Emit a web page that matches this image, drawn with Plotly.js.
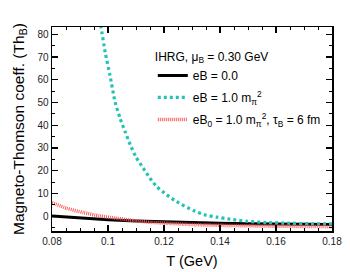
<!DOCTYPE html>
<html>
<head>
<meta charset="utf-8">
<script src="https://cdn.plot.ly/plotly-3.0.1.min.js"></script>
<style>html,body{margin:0;padding:0;background:#fff;}#chart{width:350px;height:272px;}</style>
</head>
<body>
<div id="chart"></div>
<script>
// Black solid: eB = 0.0
const tZero = [0.08, 0.09, 0.10, 0.11, 0.12, 0.13, 0.14, 0.15, 0.16, 0.17, 0.18];
const thZero = [0.1, -0.8, -1.5, -2.1, -2.5, -2.8, -3.1, -3.3, -3.4, -3.5, -3.6];

// Cyan dotted: eB = 1.0 m_pi^2
const tConst = [0.0965, 0.0975, 0.099, 0.1007, 0.1025, 0.1043, 0.1061, 0.108, 0.110, 0.1126, 0.115, 0.1174, 0.121, 0.1245, 0.1305, 0.1346, 0.1388, 0.1436, 0.1495, 0.1566, 0.165, 0.172, 0.18];
const thConst = [89, 83.2, 72, 62, 50.4, 43.1, 37.2, 31.3, 26, 21.1, 16.7, 13.0, 9.4, 6.4, 2.5, 0.6, -0.4, -1.3, -2.2, -2.8, -3.1, -3.3, -3.4];

// Red dense dotted: eB0 = 1.0 m_pi^2, tau_B = 6 fm
const tDecay = [0.08, 0.0852, 0.0912, 0.097, 0.1031, 0.109, 0.115, 0.121, 0.127, 0.133, 0.14, 0.15, 0.16, 0.17, 0.18];
const thDecay = [6.0, 3.5, 1.6, 0.1, -0.9, -1.9, -2.7, -3.1, -3.5, -3.8, -4.0, -4.2, -4.4, -4.5, -4.6];

const names = ['eB = 0.0', 'eB = 1.0 m<sub>π</sub><sup>2</sup>', 'eB<sub>0</sub> = 1.0 m<sub>π</sub><sup>2</sup>, τ<sub>B</sub> = 6 fm'];
const legendTitle = 'IHRG, μ<sub>B</sub> = 0.30 GeV';
const yTitle = 'Magneto-Thomson coeff. (Th<sub>B</sub>)';

const traces = [
  {x: tZero, y: thZero, name: names[0], legendgroup: 'a', mode: 'lines', line: {color: '#000000', width: 3}},
  {x: tConst, y: thConst, name: names[1], legendgroup: 'b', mode: 'lines', line: {color: '#22c3b5', width: 3.2, dash: '3px,3px', shape: 'spline', smoothing: 0.6}},
  {x: tDecay, y: thDecay, name: names[2], legendgroup: 'c', mode: 'lines', line: {color: '#ff5a5a', width: 3.5, dash: '1px,1px', shape: 'spline', smoothing: 0.6}}
];

const axisCommon = {
  showline: true, linecolor: '#000', linewidth: 1.5, mirror: 'allticks',
  ticks: 'inside', ticklen: 6, tickwidth: 1.2, tickcolor: '#000',
  showgrid: false, zeroline: false,
  tickfont: {family: 'Liberation Sans, Arial, sans-serif', size: 10, color: '#222'}
};

const layout = {
  width: 350, height: 272,
  margin: {l: 52, r: 18, t: 27, b: 41},
  paper_bgcolor: '#fff', plot_bgcolor: '#fff',
  font: {family: 'Liberation Sans, Arial, sans-serif', color: '#000'},
  showlegend: true,
  legend: {
    x: 0.36, y: 0.91, xanchor: 'left', yanchor: 'top',
    bgcolor: 'rgba(0,0,0,0)', borderwidth: 0,
    font: {size: 12, color: '#000'},
    title: {text: legendTitle, font: {size: 12, color: '#000'}},
    traceorder: 'grouped', tracegroupgap: 3
  },
  xaxis: Object.assign({}, axisCommon, {
    range: [0.08, 0.18], tickvals: [0.08, 0.1, 0.12, 0.14, 0.16, 0.18],
    ticktext: ['0.08', '0.1', '0.12', '0.14', '0.16', '0.18'],
    minor: {dtick: 0.005, ticks: 'inside', ticklen: 3, tickcolor: '#000', tickwidth: 1},
    title: {text: 'T (GeV)', font: {size: 14.5, color: '#000'}, standoff: 10}
  }),
  yaxis: Object.assign({}, axisCommon, {
    range: [-6.5, 83.2], tickvals: [0, 10, 20, 30, 40, 50, 60, 70, 80],
    minor: {dtick: 5, tick0: 0, ticks: 'inside', ticklen: 3, tickcolor: '#000', tickwidth: 1}
  }),
  annotations: [{
    text: yTitle, textangle: -90, showarrow: false,
    xref: 'paper', yref: 'paper', x: -33 / 280, y: 0.5, xanchor: 'center', yanchor: 'middle',
    font: {size: 15.5, color: '#000'}
  }]
};

Plotly.newPlot('chart', traces, layout, {staticPlot: true, displayModeBar: false});
</script>
</body>
</html>
